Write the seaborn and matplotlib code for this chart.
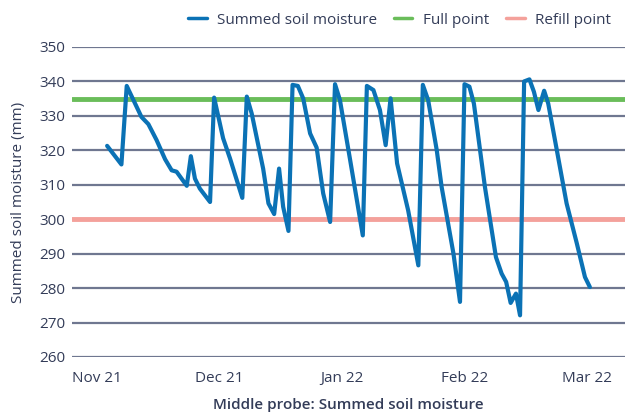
import numpy as np
import pandas as pd
import matplotlib
matplotlib.use("Agg")
import matplotlib.pyplot as plt
import seaborn as sns

# days since 1 Nov 2021 and summed soil moisture (mm)
days = [2.5, 6.0, 7.3, 10.9, 12.6, 14.6, 16.7, 18.3, 19.5, 22.0, 23.0, 24.0, 25.2,
        27.7, 28.7, 30.9, 32.6, 35.6, 36.7, 37.9, 40.7, 42.0, 43.4, 44.6, 45.6,
        46.9, 47.9, 49.2, 50.5, 52.2, 53.8, 55.4, 57.1, 58.3, 59.5, 62.0, 65.1,
        66.1, 67.7, 69.3, 70.7, 71.9, 73.5, 76.2, 78.7, 79.8, 81.1, 83.2, 84.4,
        87.3, 88.9, 90.0, 91.2, 92.3, 95.0, 97.7, 99.1, 100.2, 101.3, 102.6,
        103.6, 104.6, 105.9, 107.0, 108.1, 109.5, 110.5, 112.6, 115.0, 117.5,
        119.5, 120.7]
moisture = [321.3, 315.9, 338.7, 329.7, 327.6, 323.0, 317.4, 314.2, 313.8, 309.7,
            318.3, 311.8, 308.9, 305.0, 335.3, 323.5, 317.6, 306.2, 335.6, 330.7,
            314.7, 304.6, 301.5, 314.7, 303.6, 296.6, 339.0, 338.7, 335.1, 324.9,
            320.8, 307.5, 299.2, 339.2, 334.6, 317.2, 295.3, 338.7, 337.5, 331.7,
            321.5, 335.1, 316.2, 302.6, 286.6, 339.0, 334.6, 320.1, 309.4, 290.0,
            276.0, 339.2, 338.5, 333.6, 309.4, 289.0, 284.2, 281.8, 275.7, 278.4,
            272.1, 340.0, 340.6, 337.0, 331.7, 337.3, 333.6, 320.1, 304.6, 293.0,
            283.2, 280.3]
full_point = 335
refill_point = 300

tick_days = [0, 30, 60, 90, 120]
tick_labels = ["Nov 21", "Dec 21", "Jan 22", "Feb 22", "Mar 22"]
y_ticks = list(range(260, 351, 10))

df = pd.DataFrame({"day": days, "moisture": moisture})

sns.set_theme(style="white")
plt.rcParams["font.family"] = ["Open Sans", "DejaVu Sans"]
text_color = "#333c58"

fig = plt.figure(figsize=(6.27, 4.15), dpi=100)
ax = fig.add_axes([72 / 627, (415 - 357) / 415, (625 - 72) / 627, (357 - 47) / 415])

for y in y_ticks:
    ax.axhline(y, color="#6f7790", lw=1.6, zorder=1)

ax.axhline(full_point, color="#6abd5a", lw=3.5, zorder=2, label="Full point")
ax.axhline(refill_point, color="#f4a19b", lw=3.5, zorder=2, label="Refill point")
sns.lineplot(data=df, x="day", y="moisture", color="#0b72b5", lw=3, ax=ax,
             zorder=3, label="Summed soil moisture")

ax.set_xlim(-6.1, 129.3)
ax.set_ylim(260, 350)
ax.set_yticks(y_ticks)
ax.set_xticks(tick_days)
ax.set_xticklabels(tick_labels)
ax.tick_params(axis="both", length=0, labelsize=11, colors=text_color)
ax.tick_params(axis="x", pad=10)
ax.tick_params(axis="y", pad=5)
for s in ax.spines.values():
    s.set_visible(False)

ax.set_ylabel("Summed soil moisture (mm)", fontsize=11, color=text_color,
              fontweight="medium", labelpad=9)
ax.set_xlabel("Middle probe: Summed soil moisture", fontsize=11, color=text_color,
              fontweight="semibold", labelpad=9)

handles, labels = ax.get_legend_handles_labels()
order = [2, 0, 1]
leg = ax.legend([handles[i] for i in order], [labels[i] for i in order],
                loc="upper right", bbox_to_anchor=(1.0, 1.155), ncol=3, frameon=False,
                fontsize=11, handlelength=1.2, columnspacing=1.1, handletextpad=0.7,
                labelcolor=text_color)
for h in leg.get_lines():
    h.set_linewidth(2.5)

plt.savefig("out.png", dpi=100)
plt.close()
